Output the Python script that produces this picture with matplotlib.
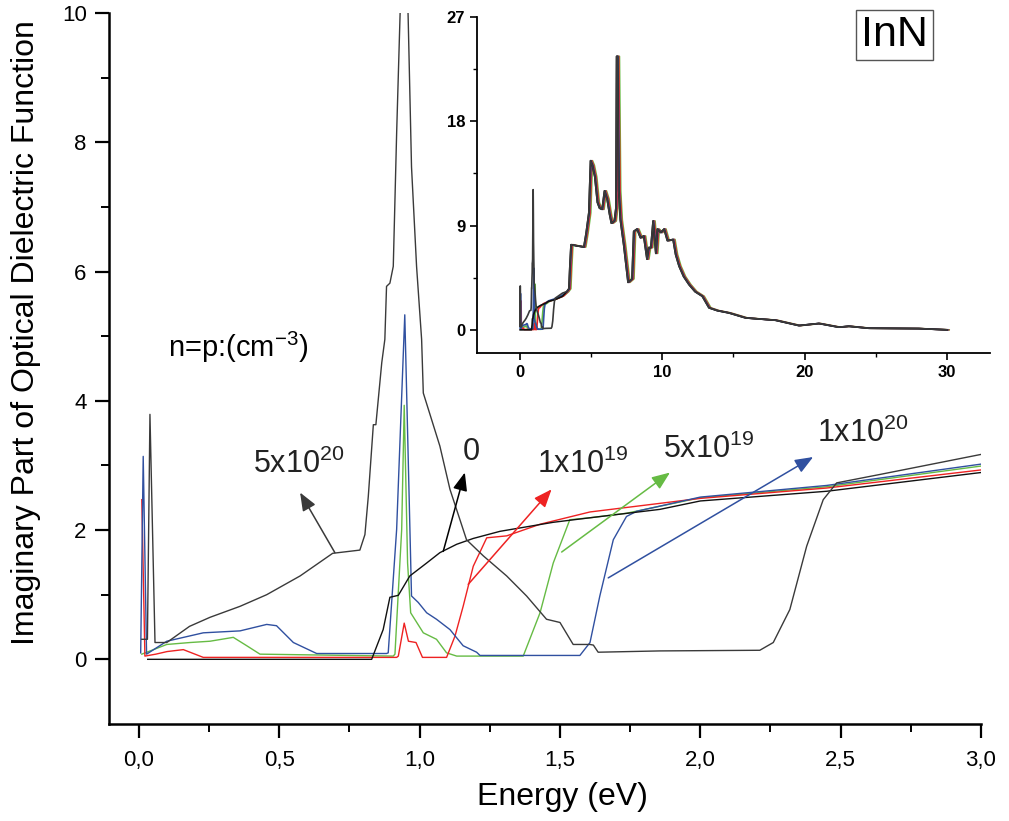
# InN imaginary part of dielectric function vs energy, with full-range inset

import numpy as np
import matplotlib
matplotlib.use('Agg')
import matplotlib.pyplot as plt
from matplotlib.ticker import FixedLocator

plt.rcParams['font.family'] = ['Liberation Sans', 'DejaVu Sans']
plt.rcParams['mathtext.default'] = 'regular'

# ---- data (energy in eV) ----
# n=p=0
e_0 = [0.031, 0.829, 0.870, 0.894, 0.924, 0.965, 1.025, 1.072, 1.132, 1.191,
       1.286, 1.381, 1.476, 1.607, 1.856, 2.0, 2.45, 3.0]
eps_0 = [0.0, 0.0, 0.46, 0.96, 0.99, 1.29, 1.49, 1.65, 1.78, 1.87,
         1.98, 2.05, 2.12, 2.19, 2.32, 2.45, 2.60, 2.89]

# 1x10^19
e_1e19 = [0.010, 0.021, 0.06, 0.10, 0.158, 0.229, 0.918, 0.924, 0.945, 0.96,
          0.987, 1.01, 1.096, 1.126, 1.155, 1.191, 1.239, 1.31, 1.429, 1.607,
          2.0, 2.45, 3.0]
eps_1e19 = [2.47, 0.05, 0.08, 0.12, 0.15, 0.03, 0.03, 0.05, 0.56, 0.28,
            0.26, 0.03, 0.03, 0.36, 0.82, 1.44, 1.88, 1.91, 2.09, 2.28,
            2.49, 2.65, 2.93]

# 5x10^19
e_5e19 = [0.010, 0.099, 0.182, 0.253, 0.336, 0.384, 0.431, 0.906, 0.912, 0.936,
          0.945, 0.957, 0.968, 1.013, 1.06, 1.096, 1.132, 1.369, 1.429, 1.476,
          1.535, 1.607, 1.737, 2.0, 2.45, 3.0]
eps_5e19 = [0.08, 0.23, 0.26, 0.28, 0.34, 0.21, 0.08, 0.05, 0.08, 2.01,
            3.93, 1.49, 0.72, 0.41, 0.31, 0.10, 0.05, 0.05, 0.72, 1.49,
            2.16, 2.19, 2.26, 2.50, 2.67, 2.99]

# 1x10^20
e_1e20 = [0.006, 0.015, 0.027, 0.099, 0.229, 0.36, 0.455, 0.49, 0.55, 0.633,
          0.882, 0.888, 0.918, 0.947, 0.971, 0.995, 1.025, 1.06, 1.108, 1.155,
          1.203, 1.215, 1.571, 1.607, 1.642, 1.69, 1.737, 1.773, 2.0, 2.45, 3.0]
eps_1e20 = [0.10, 3.14, 0.08, 0.28, 0.41, 0.44, 0.54, 0.52, 0.26, 0.09,
            0.09, 0.10, 2.01, 5.33, 0.98, 0.88, 0.72, 0.62, 0.46, 0.21,
            0.11, 0.06, 0.06, 0.26, 0.98, 1.85, 2.21, 2.29, 2.51, 2.69, 3.02]

# 5x10^20
e_5e20 = [0.010, 0.030, 0.039, 0.057, 0.099, 0.18, 0.253, 0.36, 0.455, 0.574,
          0.69, 0.787, 0.805, 0.817, 0.835, 0.844, 0.865, 0.876, 0.882, 0.894,
          0.906, 0.918, 0.930, 0.945, 0.959, 0.971, 0.989, 1.007, 1.013, 1.072,
          1.108, 1.167, 1.227, 1.31, 1.381, 1.452, 1.50, 1.547, 1.607, 1.619,
          1.636, 1.856, 2.212, 2.26, 2.319, 2.379, 2.438, 2.486, 2.64, 3.0]
eps_5e20 = [0.31, 0.31, 3.79, 0.26, 0.26, 0.51, 0.65, 0.82, 1.0, 1.29,
            1.64, 1.69, 1.93, 2.52, 3.63, 3.63, 4.59, 4.95, 5.77, 5.82,
            6.08, 8.14, 9.94, 12.1, 9.94, 7.62, 6.08, 4.95, 4.12, 3.30,
            2.63, 1.85, 1.60, 1.29, 0.98, 0.62, 0.57, 0.23, 0.23, 0.22,
            0.11, 0.13, 0.14, 0.26, 0.77, 1.75, 2.47, 2.73, 2.86, 3.17]

# common high energy part (all dopings nearly identical), for the inset
e_tail = [3.3, 3.45, 3.52, 3.6, 4.0, 4.5, 4.66, 4.85, 4.97, 5.1,
          5.27, 5.45, 5.6, 5.78, 5.95, 6.13, 6.3, 6.43, 6.64, 6.75,
          6.8, 6.86, 6.95, 7.06, 7.3, 7.6, 7.88, 8.0, 8.23, 8.47,
          8.7, 8.93, 9.05, 9.2, 9.36, 9.55, 9.66, 9.9, 10.13, 10.36,
          10.76, 10.94, 11.18, 11.5, 11.88, 12.3, 12.81, 13.28, 13.86, 14.68,
          15.85, 17.94, 19.58, 20.98, 22.38, 23.08, 24.48, 27.98, 30.0]
eps_tail = [3.3, 3.55, 5.5, 7.35, 7.25, 7.15, 8.35, 10.1, 14.6, 14.2,
            13.2, 11.0, 10.5, 10.4, 12.0, 11.3, 10.0, 9.2, 9.4, 10.5,
            23.6, 23.6, 12.0, 9.5, 7.3, 4.1, 4.4, 8.5, 8.7, 7.95,
            8.1, 6.1, 7.1, 7.1, 9.4, 6.6, 8.7, 8.4, 8.7, 7.7,
            7.8, 6.5, 5.5, 4.6, 3.9, 3.3, 2.9, 1.9, 1.66, 1.46,
            1.03, 0.83, 0.37, 0.55, 0.23, 0.31, 0.14, 0.11, 0.0]

col_0 = '#111111'
col_1e19 = '#ee2222'
col_5e19 = '#66bb44'
col_1e20 = '#3050a0'
col_5e20 = '#3a3a3a'

curves = [  # (energy, eps, colour, small shift for inset)
    (e_5e19, eps_5e19, col_5e19, 0.14),
    (e_1e19, eps_1e19, col_1e19, 0.09),
    (e_1e20, eps_1e20, col_1e20, 0.04),
    (e_0, eps_0, col_0, 0.0),
    (e_5e20, eps_5e20, col_5e20, 0.0),
]

fig = plt.figure(figsize=(10.09, 8.21), dpi=100)
ax = fig.add_axes([0.108, 0.1182, 0.8642, 0.866])

for e, eps, c, sh in curves:
    ax.plot(e, eps, color=c, lw=1.0)

ax.set_xlim(-0.107, 3.0)
ax.set_ylim(-1, 10)
ax.spines['top'].set_visible(False)
ax.spines['right'].set_visible(False)
ax.spines['left'].set_linewidth(1.8)
ax.spines['bottom'].set_linewidth(1.8)
ax.tick_params(which='major', direction='out', length=10, width=1.6, labelsize=16)
ax.tick_params(which='minor', direction='out', length=6, width=1.4)
ax.set_yticks([0, 2, 4, 6, 8, 10])
ax.yaxis.set_minor_locator(FixedLocator([1, 3, 5, 7, 9]))
xt = [0.0, 0.5, 1.0, 1.5, 2.0, 2.5, 3.0]
ax.set_xticks(xt, labels=[('%.1f' % v).replace('.', ',') for v in xt])
ax.xaxis.set_minor_locator(FixedLocator([0.25, 0.75, 1.25, 1.75, 2.25, 2.75]))
ax.tick_params(axis='x', pad=9)
ax.tick_params(axis='y', pad=6)

ax.set_xlabel('Energy (eV)', fontsize=23)
ax.xaxis.set_label_coords(0.52, -0.082)
ax.set_ylabel('Imaginary Part of Optical Dielectric Function', fontsize=23)
ax.yaxis.set_label_coords(-0.078, 0.551)

# labels and arrows
ax.text(0.103, 4.67, 'n=p:(cm$^{-3}$)', fontsize=21)
labels = [  # text, text pos, arrow tail, arrow head, colour
    ('5x10$^{20}$', (0.406, 2.89), (0.698, 1.65), (0.574, 2.58), col_5e20),
    ('0', (1.155, 3.09), (1.084, 1.67), (1.161, 2.89), '#000000'),
    ('1x10$^{19}$', (1.417, 2.89), (1.173, 1.16), (1.47, 2.63), col_1e19),
    ('5x10$^{19}$', (1.867, 3.12), (1.506, 1.66), (1.892, 2.89), col_5e19),
    ('1x10$^{20}$', (2.415, 3.37), (1.672, 1.26), (2.402, 3.13), col_1e20),
]
for txt, tpos, tail, head, c in labels:
    ax.text(tpos[0], tpos[1], txt, fontsize=22, color='#222222')
    ax.annotate('', xy=head, xytext=tail,
                arrowprops=dict(arrowstyle='-|>,head_length=0.55,head_width=0.22',
                                color=c, lw=1.1, mutation_scale=20,
                                shrinkA=0, shrinkB=0))

# ---- inset: full energy range ----
axi = fig.add_axes([0.4727, 0.570, 0.5084, 0.4093])
axi.patch.set_alpha(0)
for e, eps, c, sh in curves:
    ex = np.concatenate([e, e_tail]) + sh
    ey = np.concatenate([eps, eps_tail])
    axi.plot(ex, ey, color=c, lw=1.2)
axi.set_xlim(-3, 33)
axi.set_ylim(-2, 27)
axi.spines['top'].set_visible(False)
axi.spines['right'].set_visible(False)
axi.spines['left'].set_linewidth(1.3)
axi.spines['bottom'].set_linewidth(1.3)
axi.set_xticks([0, 10, 20, 30])
axi.set_yticks([0, 9, 18, 27])
axi.xaxis.set_minor_locator(FixedLocator([5, 15, 25]))
axi.yaxis.set_minor_locator(FixedLocator([4.5, 13.5, 22.5]))
axi.tick_params(which='major', direction='out', length=5, width=1.2, labelsize=12)
axi.tick_params(which='minor', direction='out', length=3, width=1.0)
for lab in axi.get_xticklabels() + axi.get_yticklabels():
    lab.set_fontweight('bold')

fig.text(894.5 / 1009, 1 - 35 / 821, 'InN', ha='center', va='center', fontsize=31,
         bbox=dict(boxstyle='square,pad=0.12', fc='white', ec='#555555', lw=1.0))

fig.savefig('out.png', dpi=100)
